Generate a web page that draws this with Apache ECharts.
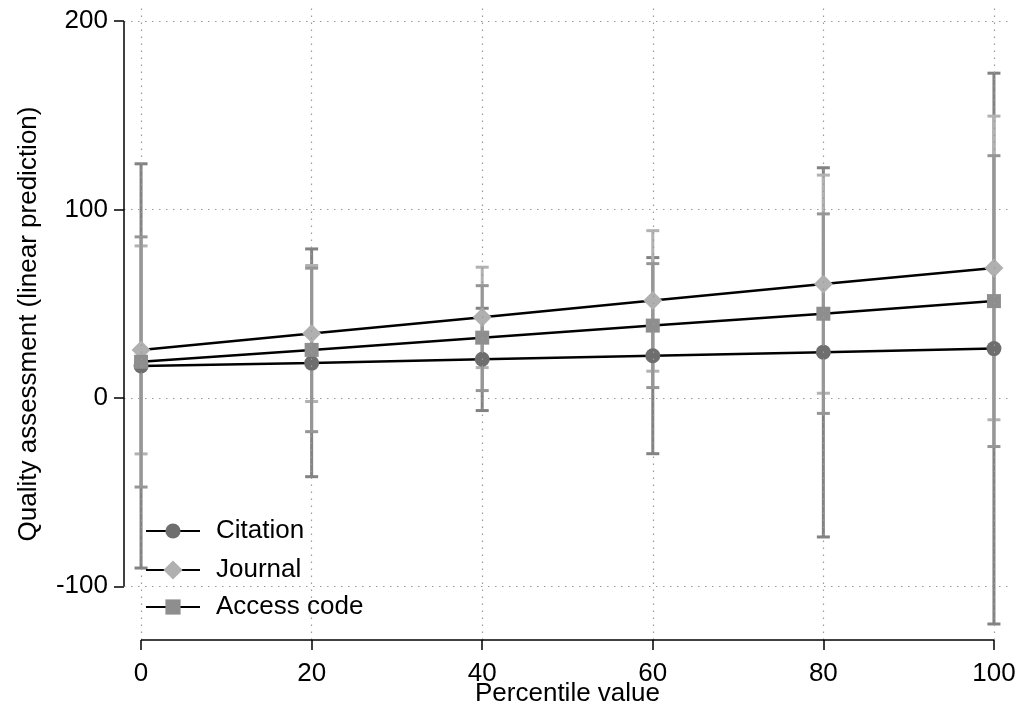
<!DOCTYPE html>
<html>
<head>
<meta charset="utf-8">
<title>Quality assessment margins</title>
<script src="https://cdn.jsdelivr.net/npm/echarts@6/dist/echarts.min.js"></script>
<style>
    html, body { margin: 0; padding: 0; background: #fff; }
    #main { width: 1033px; height: 711px; }
</style>
</head>
<body>
<div id="main"></div>
<script>
// percentile values on the x axis
var percentiles = [0, 20, 40, 60, 80, 100];
var xTicks = [0, 20, 40, 60, 80, 100];
var yTicks = [-100, 0, 100, 200];

// linear predictions
var citation = [17, 18.5, 20.5, 22.4, 24.3, 26.2];
var citationLo = [-90.3, -41.8, -6.7, -29.6, -73.8, -120];
var citationHi = [124.3, 79.1, 47.6, 74.5, 122.2, 172.4];

var journal = [25.5, 34.2, 42.8, 51.7, 60.5, 69];
var journalLo = [-29.7, -1.9, 16.1, 14.2, 2.5, -11.6];
var journalHi = [80.7, 70.3, 69.4, 88.8, 118.3, 149.6];

var access = [19.2, 25.5, 32, 38.4, 44.7, 51.4];
var accessLo = [-47.3, -17.9, 3.9, 5.5, -8.2, -25.8];
var accessHi = [85.5, 68.9, 59.6, 71.3, 97.7, 128.6];

var FONT = "'Liberation Sans', Arial, Helvetica, sans-serif";
var FS = 26;

function pairs(ys) {
    return percentiles.map(function (x, i) { return [x, ys[i]]; });
}
function ciRows(lo, hi) {
    return percentiles.map(function (x, i) { return [x, lo[i], hi[i]]; });
}

// vertical bar with caps for each confidence interval
function renderCI(params, api) {
    var x = api.value(0);
    var lo = api.coord([x, api.value(1)]);
    var hi = api.coord([x, api.value(2)]);
    var half = 6.5;
    var style = { stroke: api.visual('color'), lineWidth: 3 };
    return {
        type: 'group',
        children: [
            { type: 'line', shape: { x1: lo[0], y1: lo[1], x2: hi[0], y2: hi[1] }, style: style },
            { type: 'line', shape: { x1: lo[0] - half, y1: lo[1], x2: lo[0] + half, y2: lo[1] }, style: style },
            { type: 'line', shape: { x1: hi[0] - half, y1: hi[1], x2: hi[0] + half, y2: hi[1] }, style: style }
        ]
    };
}

// one legend block per row so the diamond key can be drawn a bit larger
function legendRow(name, top, itemHeight) {
    return {
        data: [name],
        orient: 'vertical',
        left: 145,
        top: top,
        padding: 0,
        itemWidth: 54,
        itemHeight: itemHeight,
        textStyle: { fontSize: FS, color: '#000', fontFamily: FONT, padding: [0, 0, 0, 11] }
    };
}

var xMin = -2, xMax = 102;
var yMin = -128.5, yMax = 207;

var gridLineStyle = { color: '#9a9a9a', width: 1.2, type: [1.5, 5.5] };
var axisLineStyle = { color: '#000', width: 1.5, type: 'solid' };

var myChart = echarts.init(document.getElementById('main'));

var option = {
    backgroundColor: '#fff',
    animation: false,
    textStyle: { fontFamily: FONT },
    grid: { left: 124, right: 22, top: 8, bottom: 71, containLabel: false, outerBoundsMode: 'none' },
    legend: [
        legendRow('Citation', 518, 19),
        legendRow('Journal', 557, 24),
        legendRow('Access code', 594, 19)
    ],
    xAxis: {
        type: 'value',
        min: xMin,
        max: xMax,
        name: 'Percentile value',
        nameLocation: 'middle',
        nameGap: 41,
        nameMoveOverlap: false,
        nameTextStyle: { fontSize: FS, color: '#000', fontFamily: FONT },
        axisLine: { show: false, onZero: false },
        axisTick: { show: true, length: 10, customValues: xTicks, lineStyle: { color: '#000', width: 1.5 } },
        axisLabel: { customValues: xTicks, fontSize: FS, color: '#000', margin: 21, fontFamily: FONT },
        splitLine: { show: false }
    },
    yAxis: {
        type: 'value',
        min: yMin,
        max: yMax,
        name: 'Quality assessment (linear prediction)',
        nameLocation: 'middle',
        nameGap: 82,
        nameMoveOverlap: false,
        nameTextStyle: { fontSize: FS, color: '#000', fontFamily: FONT },
        axisLine: { show: false, onZero: false },
        axisTick: { show: true, length: 10, customValues: yTicks, lineStyle: { color: '#000', width: 1.5 } },
        axisLabel: { customValues: yTicks, fontSize: FS, color: '#000', margin: 16, fontFamily: FONT },
        splitLine: { show: false }
    },
    series: [
        {
            // dotted grid and the two axis lines
            name: 'frame',
            type: 'line',
            data: [],
            z: 0,
            silent: true,
            markLine: {
                silent: true,
                symbol: 'none',
                label: { show: false },
                animation: false,
                data: yTicks.map(function (v) {
                    return { yAxis: v, lineStyle: gridLineStyle };
                }).concat(xTicks.map(function (v) {
                    return { xAxis: v, lineStyle: gridLineStyle };
                })).concat([
                    [{ coord: [xMin, yTicks[yTicks.length - 1]], lineStyle: axisLineStyle },
                     { coord: [xMin, yTicks[0]] }],
                    [{ coord: [xTicks[0], yMin], lineStyle: axisLineStyle },
                     { coord: [xTicks[xTicks.length - 1], yMin] }]
                ])
            }
        },
        {
            name: 'Citation CI',
            type: 'custom',
            renderItem: renderCI,
            itemStyle: { color: '#828282' },
            encode: { x: 0, y: [1, 2] },
            data: ciRows(citationLo, citationHi),
            z: 1
        },
        {
            name: 'Journal CI',
            type: 'custom',
            renderItem: renderCI,
            itemStyle: { color: '#b2b2b2' },
            encode: { x: 0, y: [1, 2] },
            data: ciRows(journalLo, journalHi),
            z: 1
        },
        {
            name: 'Access code CI',
            type: 'custom',
            renderItem: renderCI,
            itemStyle: { color: '#969696' },
            encode: { x: 0, y: [1, 2] },
            data: ciRows(accessLo, accessHi),
            z: 1
        },
        {
            name: 'Citation',
            type: 'line',
            data: pairs(citation),
            symbol: 'circle',
            symbolSize: 15,
            showAllSymbol: true,
            itemStyle: { color: '#6e6e6e' },
            lineStyle: { color: '#000', width: 2.5 },
            z: 3
        },
        {
            name: 'Journal',
            type: 'line',
            data: pairs(journal),
            symbol: 'diamond',
            symbolSize: 19,
            showAllSymbol: true,
            itemStyle: { color: '#b0b0b0' },
            lineStyle: { color: '#000', width: 2.5 },
            z: 3
        },
        {
            name: 'Access code',
            type: 'line',
            data: pairs(access),
            symbol: 'rect',
            symbolSize: 14,
            showAllSymbol: true,
            itemStyle: { color: '#8e8e8e' },
            lineStyle: { color: '#000', width: 2.5 },
            z: 3
        }
    ]
};

myChart.setOption(option);
</script>
</body>
</html>
